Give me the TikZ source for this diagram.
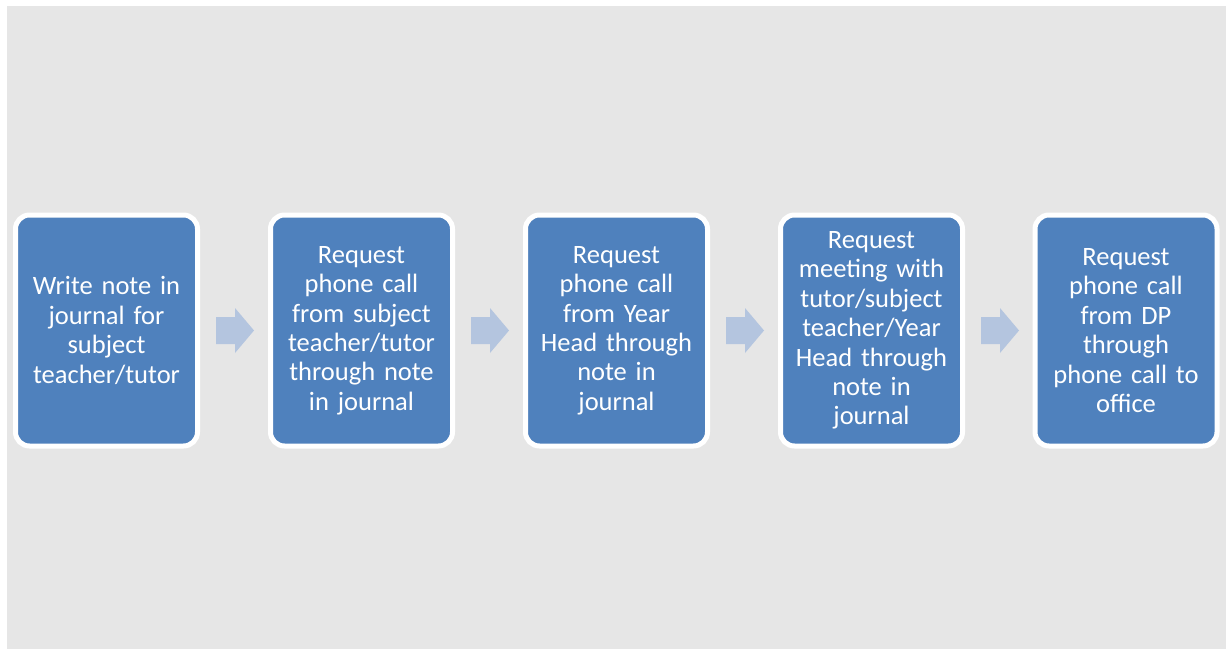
\documentclass[tikz,border=0pt]{standalone}
\usepackage{fontspec}
\setmainfont{Carlito}
\definecolor{bg}{HTML}{E6E6E6}
\definecolor{boxblue}{HTML}{4F81BD}
\definecolor{arrowc}{HTML}{B4C5DF}
\begin{document}
\begin{tikzpicture}[x=1pt,y=-1pt,
  stepbox/.style={fill=boxblue,draw=white,line width=5pt,rounded corners=14pt,
    minimum width=182pt,minimum height=231pt,text width=176pt,align=center,
    inner sep=0pt,text=white,font=\fontsize{26.5}{29.4}\selectfont},
  flowarrow/.style={fill=arrowc}]
\useasboundingbox (0,0) rectangle (1226,649);
\fill[white] (0,0) rectangle (1226,649);
\fill[bg] (7,6) rectangle (1226,649);
\node[stepbox] (b1) at (106.5,330.5) {Write note in\\journal for\\subject\\teacher/tutor};
\node[stepbox] (b2) at (361.5,330.5) {Request\\phone call\\from subject\\teacher/tutor\\through note\\in journal};
\node[stepbox] (b3) at (616.5,330.5) {Request\\phone call\\from Year\\Head through\\note in\\journal};
\node[stepbox] (b4) at (871.5,330.5) {Request\\meeting with\\tutor/subject\\teacher/Year\\Head through\\note in\\journal};
\node[stepbox] (b5) at (1126,330.5) {Request\\phone call\\from DP\\through\\phone call to\\office};
\foreach \a in {b1,b2,b3,b4}{
  \fill[flowarrow] ([xshift=16pt]\a.east) ++(0,-13.5) -- ++(19,0) -- ++(0,-9) -- ++(19,22.5)
     -- ++(-19,22.5) -- ++(0,-9) -- ++(-19,0) -- cycle;
}
\end{tikzpicture}
\end{document}
